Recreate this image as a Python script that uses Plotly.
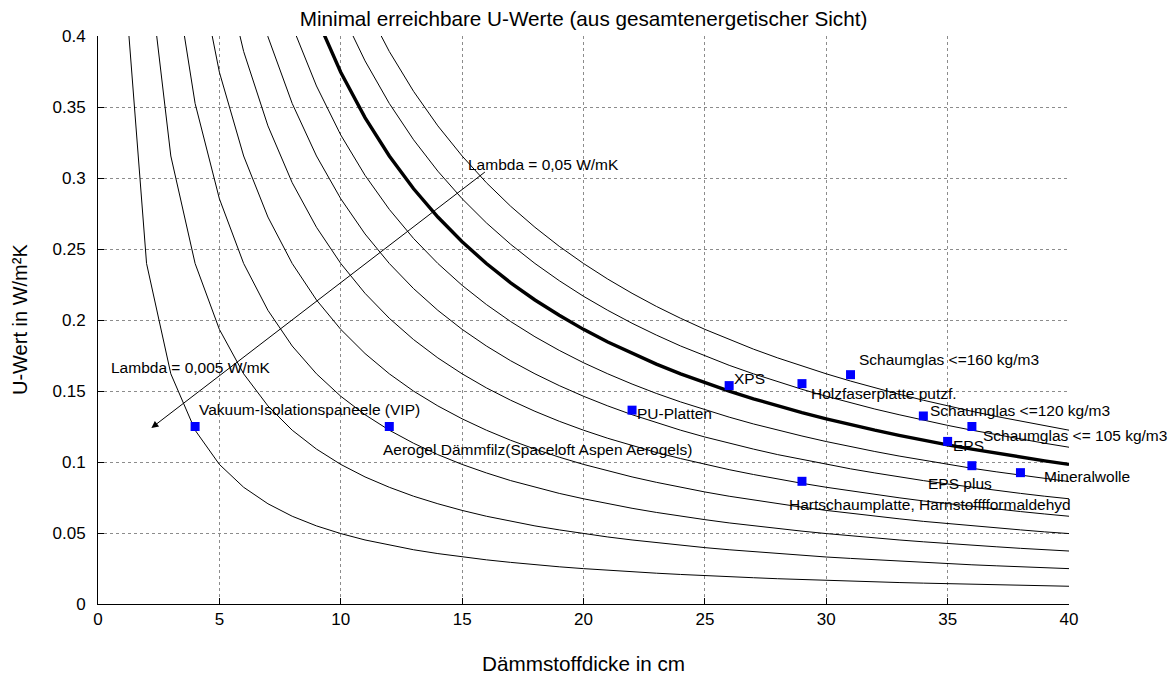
import plotly.graph_objects as go

# ---------------- data ----------------
thickness_cm = [1, 2, 3, 4, 5, 6, 7, 8, 9, 10, 11, 12, 13, 14, 15, 16, 17, 18, 19, 20,
                21, 22, 23, 24, 25, 26, 27, 28, 29, 30, 31, 32, 33, 34, 35, 36, 37, 38, 39, 40]

lambda_labels = ["0,005", "0,010", "0,015", "0,020", "0,025", "0,030", "0,035", "0,040", "0,045", "0,050"]

u_l005 = [0.4608, 0.2398, 0.1621, 0.1224, 0.0983, 0.0822, 0.0706, 0.0618, 0.0550, 0.0496,
          0.0451, 0.0414, 0.0382, 0.0355, 0.0331, 0.0311, 0.0293, 0.0276, 0.0262, 0.0249,
          0.0237, 0.0226, 0.0217, 0.0208, 0.0199, 0.0192, 0.0185, 0.0178, 0.0172, 0.0166,
          0.0161, 0.0156, 0.0151, 0.0147, 0.0143, 0.0139, 0.0135, 0.0131, 0.0128, 0.0125]
u_l010 = [None, 0.4608, 0.3155, 0.2398, 0.1934, 0.1621, 0.1395, 0.1224, 0.1091, 0.0983,
          0.0895, 0.0822, 0.0759, 0.0706, 0.0659, 0.0618, 0.0582, 0.0550, 0.0522, 0.0496,
          0.0472, 0.0451, 0.0432, 0.0414, 0.0397, 0.0382, 0.0368, 0.0355, 0.0343, 0.0331,
          0.0321, 0.0311, 0.0301, 0.0293, 0.0284, 0.0276, 0.0269, 0.0262, 0.0255, 0.0249]
u_l015 = [None, None, 0.4608, 0.3525, 0.2854, 0.2398, 0.2068, 0.1817, 0.1621, 0.1463,
          0.1333, 0.1224, 0.1132, 0.1052, 0.0983, 0.0923, 0.0869, 0.0822, 0.0779, 0.0741,
          0.0706, 0.0674, 0.0645, 0.0618, 0.0594, 0.0571, 0.0550, 0.0531, 0.0513, 0.0496,
          0.0480, 0.0465, 0.0451, 0.0438, 0.0425, 0.0414, 0.0403, 0.0392, 0.0382, 0.0373]
u_l020 = [None, None, None, 0.4608, 0.3745, 0.3155, 0.2725, 0.2398, 0.2141, 0.1934,
          0.1764, 0.1621, 0.1499, 0.1395, 0.1304, 0.1224, 0.1153, 0.1091, 0.1034, 0.0983,
          0.0937, 0.0895, 0.0857, 0.0822, 0.0789, 0.0759, 0.0732, 0.0706, 0.0682, 0.0659,
          0.0638, 0.0618, 0.0600, 0.0582, 0.0566, 0.0550, 0.0536, 0.0522, 0.0508, 0.0496]
u_l025 = [None, None, None, None, 0.4608, 0.3891, 0.3367, 0.2967, 0.2653, 0.2398,
          0.2188, 0.2012, 0.1862, 0.1733, 0.1621, 0.1522, 0.1435, 0.1357, 0.1287, 0.1224,
          0.1167, 0.1115, 0.1067, 0.1024, 0.0983, 0.0946, 0.0912, 0.0880, 0.0850, 0.0822,
          0.0796, 0.0771, 0.0748, 0.0726, 0.0706, 0.0686, 0.0668, 0.0651, 0.0634, 0.0618]
u_l030 = [None, None, None, None, None, 0.4608, 0.3995, 0.3525, 0.3155, 0.2854,
          0.2606, 0.2398, 0.2221, 0.2068, 0.1934, 0.1817, 0.1713, 0.1621, 0.1538, 0.1463,
          0.1395, 0.1333, 0.1276, 0.1224, 0.1176, 0.1132, 0.1091, 0.1052, 0.1017, 0.0983,
          0.0952, 0.0923, 0.0895, 0.0869, 0.0845, 0.0822, 0.0800, 0.0779, 0.0759, 0.0741]
u_l035 = [None, None, None, None, None, None, None, 0.4072, 0.3648, 0.3303,
          0.3019, 0.2779, 0.2574, 0.2398, 0.2244, 0.2109, 0.1989, 0.1882, 0.1786, 0.1699,
          0.1621, 0.1549, 0.1483, 0.1423, 0.1367, 0.1316, 0.1268, 0.1224, 0.1183, 0.1144,
          0.1108, 0.1074, 0.1042, 0.1012, 0.0983, 0.0956, 0.0931, 0.0907, 0.0884, 0.0862]
u_l040 = [None, None, None, None, None, None, None, None, 0.4132, 0.3745,
          0.3425, 0.3155, 0.2924, 0.2725, 0.2551, 0.2398, 0.2262, 0.2141, 0.2033, 0.1934,
          0.1845, 0.1764, 0.1689, 0.1621, 0.1558, 0.1499, 0.1445, 0.1395, 0.1348, 0.1304,
          0.1263, 0.1224, 0.1188, 0.1153, 0.1121, 0.1091, 0.1062, 0.1034, 0.1008, 0.0983]
u_l045 = [None, None, None, None, None, None, None, None, None, 0.4180,
          0.3825, 0.3525, 0.3269, 0.3048, 0.2854, 0.2684, 0.2533, 0.2398, 0.2277, 0.2167,
          0.2068, 0.1977, 0.1894, 0.1817, 0.1747, 0.1681, 0.1621, 0.1564, 0.1512, 0.1463,
          0.1417, 0.1373, 0.1333, 0.1294, 0.1258, 0.1224, 0.1192, 0.1161, 0.1132, 0.1104]
u_l050 = [None, None, None, None, None, None, None, None, None, None,
          0.4219, 0.3891, 0.3610, 0.3367, 0.3155, 0.2967, 0.2801, 0.2653, 0.2519, 0.2398,
          0.2288, 0.2188, 0.2096, 0.2012, 0.1934, 0.1862, 0.1795, 0.1733, 0.1675, 0.1621,
          0.1570, 0.1522, 0.1477, 0.1435, 0.1395, 0.1357, 0.1321, 0.1287, 0.1255, 0.1224]

curves = [u_l005, u_l010, u_l015, u_l020, u_l025, u_l030, u_l035, u_l040, u_l045, u_l050]
highlight_label = "0,040"

materials = ["Vakuum-Isolationspaneele (VIP)", "Aerogel Dämmfilz(Spaceloft Aspen Aerogels)",
             "PU-Platten", "XPS", "Holzfaserplatte putzf.", "Schaumglas <=160 kg/m3",
             "Schaumglas <=120 kg/m3", "Schaumglas <= 105 kg/m3", "EPS", "EPS plus",
             "Mineralwolle", "Hartschaumplatte, Harnstofffformaldehyd"]
material_d = [4, 12, 22, 26, 29, 31, 34, 36, 35, 36, 38, 29]
material_u = [0.125, 0.125, 0.1365, 0.1538, 0.1552, 0.1615, 0.1324, 0.1250, 0.1145, 0.0974, 0.0925, 0.0864]

# label offsets (pixels, left edge / vertical centre relative to the marker)
label_dx = [2, -8, 3, 3, 7, 6, 5, 9, 3, -46, 22, -15]
label_dy = [17, -23, -3, 7, -10, 15, 5, -9, -4, -18, -4, -23]

arrow_tail = (16.0, 0.305)
arrow_head = (2.2, 0.124)

FONT = "Liberation Sans, Arial, Helvetica, sans-serif"

W, H = 1173, 675
PL, PR, PT, PB = 98, 1069, 36, 604   # plot area in pixels

fig = go.Figure()

for lab, u in zip(lambda_labels, curves):
    thick = lab == highlight_label
    fig.add_trace(go.Scatter(
        x=thickness_cm, y=u, mode="lines",
        line=dict(color="black", width=3.4 if thick else 1),
        name=f"Lambda = {lab} W/mK", hoverinfo="skip", connectgaps=False))

fig.add_trace(go.Scatter(
    x=material_d, y=material_u, mode="markers",
    marker=dict(symbol="square", size=9, color="#0000ff", line=dict(width=0)),
    text=materials, hoverinfo="text", cliponaxis=False))

annotations = []
for name, x, y, dx, dy in zip(materials, material_d, material_u, label_dx, label_dy):
    annotations.append(dict(
        x=x, y=y, xref="x", yref="y", text=name, showarrow=False,
        xanchor="left", yanchor="middle", xshift=dx, yshift=dy,
        font=dict(family=FONT, size=15.5, color="black")))

# arrow
annotations.append(dict(
    x=arrow_head[0], y=arrow_head[1], ax=arrow_tail[0], ay=arrow_tail[1],
    xref="x", yref="y", axref="x", ayref="y", text="", showarrow=True,
    arrowhead=2, arrowsize=1.4, arrowwidth=1, arrowcolor="black"))
annotations.append(dict(
    x=arrow_tail[0], y=arrow_tail[1], xref="x", yref="y",
    text="Lambda = 0,05 W/mK", showarrow=False, xanchor="left", yanchor="middle",
    xshift=-20, yshift=6, font=dict(family=FONT, size=15.5, color="black")))
annotations.append(dict(
    x=arrow_head[0], y=arrow_head[1], xref="x", yref="y",
    text="Lambda = 0,005 W/mK", showarrow=False, xanchor="left", yanchor="middle",
    xshift=-42, yshift=60, font=dict(family=FONT, size=15.5, color="black")))

# axis titles
annotations.append(dict(
    x=0.5, y=0, xref="paper", yref="paper", text="Dämmstoffdicke in cm",
    showarrow=False, xanchor="center", yanchor="middle", yshift=-59,
    font=dict(family=FONT, size=20.7, color="black")))
annotations.append(dict(
    x=0, y=0.5, xref="paper", yref="paper", text="U-Wert in W/m²K",
    showarrow=False, xanchor="center", yanchor="middle", xshift=-78, textangle=-90,
    font=dict(family=FONT, size=20, color="black")))

axis_common = dict(
    showgrid=True, gridcolor="#8c8c8c", griddash="dot", gridwidth=1,
    showline=True, linecolor="black", linewidth=1,
    ticks="inside", ticklen=6, tickcolor="black", zeroline=False,
    tickfont=dict(family=FONT, size=17, color="black"))

fig.update_layout(
    width=W, height=H,
    margin=dict(l=PL, r=W - PR, t=PT, b=H - PB),
    paper_bgcolor="white", plot_bgcolor="white",
    showlegend=False,
    title=dict(text="Minimal erreichbare U-Werte (aus gesamtenergetischer Sicht)",
               x=0.5, xref="paper", xanchor="center",
               y=1 - 19 / H, yref="container", yanchor="middle",
               font=dict(family=FONT, size=20.7, color="black")),
    xaxis=dict(range=[0, 40], dtick=5, tick0=0, ticklabelstandoff=0, **axis_common),
    yaxis=dict(range=[0, 0.4], dtick=0.05, tick0=0, ticklabelstandoff=8, **axis_common),
    annotations=annotations,
)

fig.write_html("out.html",
               config={"displayModeBar": False},
               post_script="document.body.style.margin='0';document.body.style.overflow='hidden';")
